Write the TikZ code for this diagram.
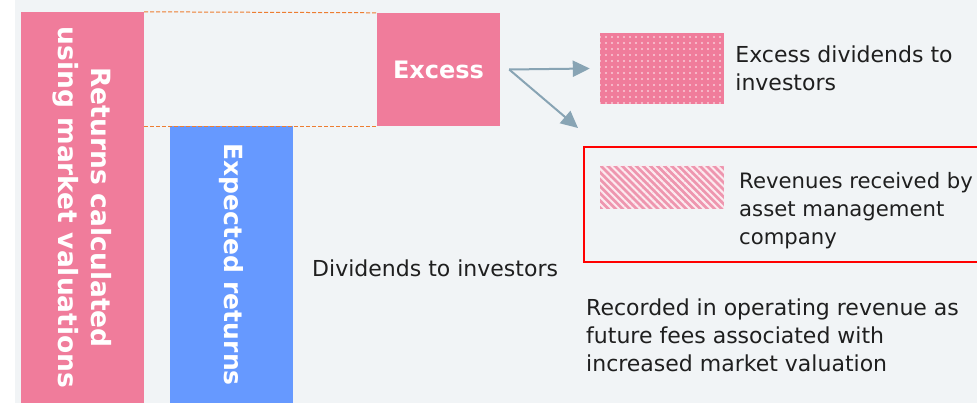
\documentclass[tikz,border=0pt]{standalone}
\usepackage{fontspec}
\setmainfont{DejaVu Sans}
\usepackage{xcolor}
\usetikzlibrary{arrows.meta,positioning,patterns.meta}

\definecolor{bggray}{RGB}{241,244,246}
\definecolor{barpink}{RGB}{240,124,155}
\definecolor{barblue}{RGB}{102,153,255}
\definecolor{hatchpink}{RGB}{238,150,175}
\definecolor{flowgray}{RGB}{136,164,180}
\definecolor{dashorange}{RGB}{237,125,49}

\tikzset{
  bar/.style={fill=barpink, inner sep=0, text=white, font=\bfseries\fontsize{25}{33}\selectfont},
  barlabel/.style={rotate=-90, align=center, inner sep=0, text=white, font=\bfseries\fontsize{25}{33}\selectfont},
  note/.style={inner sep=0, align=left, text=black!88, font=\fontsize{22}{28}\selectfont},
  flow/.style={-{Triangle[length=17pt,width=16pt]}, line width=2pt, flowgray},
  dashline/.style={dashorange, dash pattern=on 4pt off 2pt, line width=1pt}
}

\begin{document}
\begin{tikzpicture}[x=1pt, y=-1pt]
    \useasboundingbox (0,0) rectangle (977,403);
    \clip (0,0) rectangle (977,403);
    \fill[bggray] (15,0) rectangle (977,403);

    % Returns bars
    \node[bar, minimum width=123pt, minimum height=391pt] (market) at (82.5,207.5) {};
    \node[barlabel, font=\bfseries\fontsize{26.5}{33}\selectfont] (marketlbl) at (market.center) {Returns calculated\\using market valuations};

    \node[bar, fill=barblue, minimum width=123pt, minimum height=277pt] (expected) at (231.5,264.5) {};
    \node[barlabel] (expectedlbl) at (expected.center) {Expected returns};

    \node[bar, font=\bfseries\fontsize{24}{28}\selectfont, minimum width=123pt, minimum height=113pt] (excess) at (438.5,69.5) {Excess};

    % Dashed outline of the excess part
    \draw[dashline] (market.north east) -- (excess.north west);
    \draw[dashline] (market.east |- excess.south) -- (excess.south west);

    \node[note] (dividendstext) at (312,268) [anchor=west] {Dividends to investors};

    % Split of the excess
    \node[minimum width=124pt, minimum height=71pt, inner sep=0,
          preaction={fill=barpink}, pattern={Dots[distance=6pt, radius=1.2pt]},
          pattern color=white!60!barpink] (dotsbox) at (662,68.5) {};
    \node[note, right=11pt of dotsbox] (excesstext) {Excess dividends to\\investors};

    \node[draw=red, line width=2pt, minimum width=410pt, minimum height=115pt, inner sep=0] (revframe) at (789,204.5) {};
    \node[minimum width=124pt, minimum height=43pt, inner sep=0,
          preaction={fill=hatchpink}, pattern={Lines[angle=-45, distance=5pt, line width=2pt]},
          pattern color=white!80!hatchpink] (hatchbox) at (662,187.5) {};
    \node[note, anchor=west, font=\fontsize{21.2}{28}\selectfont] (revtext) at (739,210.5) {Revenues received by\\asset management\\company};

    \coordinate (split) at ([xshift=9pt]excess.east);
    \coordinate (revtip) at (578,128);
    \draw[flow] (split) -- ([xshift=-10pt]dotsbox.west);
    \draw[flow] (split) -- (revtip);

    \node[note, anchor=west] (recordtext) at (586,335) {Recorded in operating revenue as\\future fees associated with\\increased market valuation};
\end{tikzpicture}
\end{document}
